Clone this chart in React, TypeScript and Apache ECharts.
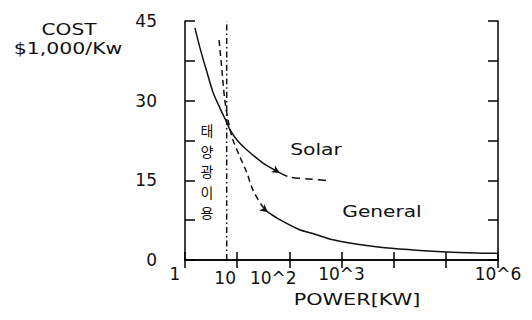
import React, { useEffect, useRef } from "react";
import * as echarts from "echarts";

// x in kW (log axis), y in $1,000/kW
const generalDashed: [number, number][] = [
  [4.5, 41.4], [5.1, 35.8], [5.8, 30.1], [7.0, 25.4], [8.3, 22.6],
  [11.3, 19.4], [15.4, 16.4], [20, 13.2], [31, 10.0], [39, 9.0],
];
const generalSolid: [number, number][] = [
  [39, 9.0], [58, 7.9], [158, 5.7], [280, 5.0], [684, 3.8], [1260, 3.3],
  [5500, 2.4], [23400, 1.9], [105000, 1.5], [871000, 1.25], [1000000, 1.2],
];
const solarSolid: [number, number][] = [
  [1.55, 43.7], [1.94, 39.9], [2.63, 35.4], [3.44, 31.6], [4.68, 28.6],
  [6.67, 25.4], [7.3, 24.5], [9.9, 22.6], [15.4, 20.7], [31, 18.3], [66, 16.4],
];
const solarDashed: [number, number][] = [
  [66, 16.4], [102, 15.6], [245, 15.25], [603, 14.9],
];
const boundary: [number, number][] = [[6.3, 0], [6.3, 45]];

const xTickLabels: Record<number, string> = { 0: "1", 1: "10", 2: "10^2", 3: "10^3", 6: "10^6" };
const yTickLabels = [0, 15, 30, 45];
const koreanLabel = "태양광이용";

const INK = "#000";
const FONT = "DejaVu Sans";

export default function App() {
  const ref = useRef<HTMLDivElement>(null);
  useEffect(() => {
    if (!ref.current) return;
    const chart = echarts.init(ref.current, undefined, { renderer: "svg" });
    const labelStyle = { fontFamily: FONT, fontSize: 17, color: "#111" };
    const xBase = {
      type: "log",
      logBase: 10,
      min: 1,
      max: 1000000,
      splitNumber: 6,
      axisLine: { show: true, lineStyle: { color: INK, width: 1.5 } },
      axisTick: { show: true, inside: true, length: 8, lineStyle: { color: INK, width: 1.5 } },
      splitLine: { show: false },
    };
    const yBase = {
      type: "value",
      min: 0,
      max: 45,
      interval: 7.5,
      axisLine: { show: true, lineStyle: { color: INK, width: 1.5 } },
      axisTick: { show: true, inside: true, length: 10, lineStyle: { color: INK, width: 1.5 } },
      splitLine: { show: false },
    };
    const line = (data: [number, number][], type: any) => ({
      type: "line",
      data,
      smooth: 0.3,
      showSymbol: false,
      symbol: "none",
      silent: true,
      lineStyle: { color: "#111", width: 1.5, type },
    });
    const arrow = (coord: [number, number], rot: number) => ({
      symbol: "arrow",
      symbolSize: [6, 8],
      silent: true,
      label: { show: false },
      itemStyle: { color: "#111" },
      data: [{ coord, symbolRotate: rot }],
    });
    const txt = (text: string, x: number, y: number, scaleX: number) => ({
      type: "text", x, y, scaleX,
      style: { text, fontFamily: FONT, fontSize: 16, fill: "#111", align: "center", verticalAlign: "middle", textAlign: "center", textVerticalAlign: "middle" },
    });
    const option: any = {
      animation: false,
      backgroundColor: "#fff",
      grid: { left: 185, right: 34, top: 21, bottom: 60 },
      xAxis: [
        {
          ...xBase,
          position: "bottom",
          axisLabel: {
            ...labelStyle,
            margin: 5,
            formatter: (v: number) => {
              const e = Math.round(Math.log10(v));
              const t = xTickLabels[e];
              if (!t) return "";
              if (e === 0) return `{p0|${t}}`;
              if (e === 1) return `{p1|${t}}`;
              if (e === 2) return `{p2|${t}}`;
              return `{p|${t}}`;
            },
            rich: {
              p: { ...labelStyle },
              p0: { ...labelStyle, padding: [0, 20, 0, 0] },
              p1: { ...labelStyle, padding: [4, 24, 0, 0] },
              p2: { ...labelStyle, padding: [4, 32, 0, 0] },
            },
          },
        },
        { ...xBase, position: "top", axisLabel: { show: false } },
      ],
      yAxis: [
        {
          ...yBase,
          position: "left",
          axisLabel: {
            ...labelStyle,
            margin: 28,
            padding: [0, 0, 8, 0],
            formatter: (v: number) => (yTickLabels.includes(v) ? String(v) : ""),
          },
        },
        { ...yBase, position: "right", axisLabel: { show: false } },
      ],
      series: [
        { ...line(boundary, [6, 3, 1.5, 3]), name: "boundary" },
        { ...line(generalDashed, [6, 4]), name: "General (projected)", markPoint: arrow([39, 9.0], -128) },
        { ...line(generalSolid, "solid"), name: "General" },
        { ...line(solarSolid, "solid"), name: "Solar", markPoint: arrow([66, 16.4], -120) },
        { ...line(solarDashed, [8, 5]), name: "Solar (projected)" },
      ],
      graphic: [
        txt("COST", 69, 29, 1.26),
        txt("$1,000/Kw", 68, 48, 1.28),
        txt("Solar", 316, 149, 1.27),
        txt("General", 382, 211, 1.26),
        txt("POWER[KW]", 357, 299, 1.3),
        ...koreanLabel.split("").map((ch, i) => ({
          type: "text", x: 207, y: 130 + i * 20.5,
          style: { text: ch, fontFamily: "Noto Sans CJK KR", fontSize: 14, fill: "#111", align: "center", verticalAlign: "middle", textAlign: "center", textVerticalAlign: "middle" },
        })),
      ],
    };
    chart.setOption(option);
    return () => chart.dispose();
  }, []);
  return (
    <div
      ref={ref}
      style={{ position: "fixed", left: 0, top: 0, width: 532, height: 320, background: "#fff" }}
    />
  );
}
